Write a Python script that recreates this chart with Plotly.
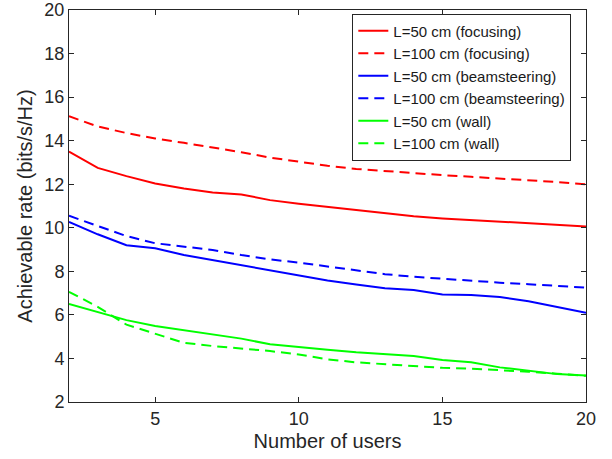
import plotly.graph_objects as go

users = list(range(2, 21))

focus_50 = [13.50, 12.75, 12.37, 12.03, 11.80, 11.62, 11.53, 11.27, 11.10,
            10.95, 10.82, 10.65, 10.53, 10.43, 10.35, 10.28, 10.20, 10.13, 10.06]
focus_100 = [15.12, 14.65, 14.35, 14.10, 13.90, 13.70, 13.47, 13.22, 13.02,
             12.85, 12.70, 12.60, 12.50, 12.42, 12.34, 12.27, 12.19, 12.10, 12.00]
steer_50 = [10.27, 9.70, 9.20, 9.06, 8.75, 8.52, 8.29, 8.03, 7.80,
            7.58, 7.40, 7.22, 7.14, 6.94, 6.91, 6.82, 6.63, 6.37, 6.10]
steer_100 = [10.55, 10.07, 9.62, 9.29, 9.13, 8.98, 8.75, 8.55, 8.40,
             8.22, 8.05, 7.87, 7.75, 7.65, 7.57, 7.48, 7.41, 7.32, 7.25]
wall_50 = [6.50, 6.14, 5.76, 5.49, 5.30, 5.11, 4.91, 4.65, 4.54,
           4.40, 4.28, 4.20, 4.11, 3.93, 3.83, 3.59, 3.44, 3.28, 3.22]
wall_100 = [7.06, 6.37, 5.55, 5.12, 4.72, 4.57, 4.46, 4.34, 4.18,
            3.96, 3.82, 3.73, 3.64, 3.57, 3.53, 3.47, 3.39, 3.30, 3.20]

series = [
    ("L=50 cm (focusing)", focus_50, "#ff0000", "solid"),
    ("L=100 cm (focusing)", focus_100, "#ff0000", "10px,6px"),
    ("L=50 cm (beamsteering)", steer_50, "#0000ff", "solid"),
    ("L=100 cm (beamsteering)", steer_100, "#0000ff", "10px,6px"),
    ("L=50 cm (wall)", wall_50, "#00ff00", "solid"),
    ("L=100 cm (wall)", wall_100, "#00ff00", "10px,6px"),
]

fig = go.Figure()
for name, vals, color, dash in series:
    fig.add_trace(go.Scatter(
        x=users, y=vals, mode="lines", name=name,
        line=dict(color=color, width=2, dash=dash),
    ))

axis_color = "#262626"
font_family = "Liberation Sans, Arial, Helvetica, sans-serif"

fig.update_layout(
    width=612, height=459,
    margin=dict(l=69, r=26, t=10, b=57),
    paper_bgcolor="white", plot_bgcolor="white",
    font=dict(family=font_family, color=axis_color, size=18),
    showlegend=True,
    legend=dict(
        x=0.548, y=0.991, xanchor="left", yanchor="top",
        bgcolor="white", bordercolor=axis_color, borderwidth=1,
        font=dict(size=15, color="#1a1a1a"),
        tracegroupgap=0, itemwidth=30,
    ),
)

fig.update_xaxes(
    range=[2, 20], tickvals=[5, 10, 15, 20],
    title=dict(text="Number of users", font=dict(size=20), standoff=6),
    showline=True, linecolor=axis_color, linewidth=1, mirror="ticks",
    ticks="inside", ticklen=5, tickcolor=axis_color,
    showgrid=False, zeroline=False, automargin=False,
    tickfont=dict(size=18),
)
fig.update_yaxes(
    range=[2, 20], tickvals=list(range(2, 21, 2)),
    title=dict(text="Achievable rate (bits/s/Hz)", font=dict(size=20), standoff=6),
    showline=True, linecolor=axis_color, linewidth=1, mirror="ticks",
    ticks="inside", ticklen=5, tickcolor=axis_color,
    showgrid=False, zeroline=False, automargin=False,
    tickfont=dict(size=18),
)

fig.write_html("out.html")
